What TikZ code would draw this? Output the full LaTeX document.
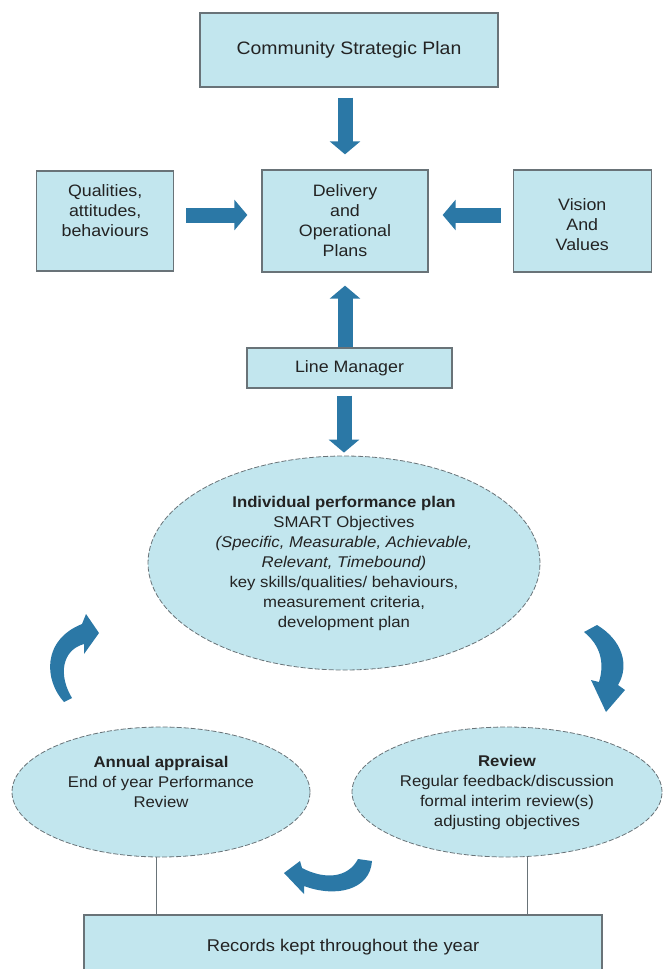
\documentclass[tikz,border=0pt]{standalone}
\usepackage{fontspec}
\setmainfont{Liberation Sans}[FakeStretch=1.08]
\usepackage{tikz}
\usetikzlibrary{arrows.meta,calc,positioning,shapes.geometric}
\definecolor{boxfill}{RGB}{194,230,238}
\definecolor{boxline}{RGB}{105,115,120}
\definecolor{arrowblue}{RGB}{43,120,166}
\definecolor{textgray}{RGB}{35,35,35}
\tikzset{
	plan box/.style={draw=boxline,fill=boxfill,line width=1.3pt,align=center,
		text=textgray,font=\fontsize{16.5}{20}\selectfont,inner sep=0pt},
	plan oval/.style={ellipse,draw=boxline,fill=boxfill,line width=0.8pt,
		dash pattern=on 5pt off 2pt,align=center,text=textgray,
		font=\fontsize{15.5}{20}\selectfont,inner sep=0pt},
	fat arrow/.style={draw=arrowblue,line width=15pt,
		-{Triangle[width=30pt,length=13pt]}},
	cycle arrow/.style={fill=arrowblue},
	rec line/.style={draw=boxline,line width=0.6pt}
}
\begin{document}
\begin{tikzpicture}[x=1pt,y=-1pt]
	\useasboundingbox (0,0) rectangle (664,969);
	% top of the plan
	\node[plan box,minimum width=298pt,minimum height=74pt,font=\fontsize{18}{20}\selectfont] (csp) at (349,50) {Community Strategic Plan};
	\node[plan box,minimum width=166pt,minimum height=102pt] (dop) at (345,221) {Delivery\\and\\Operational\\Plans};
	\node[plan box,minimum width=137pt,minimum height=100pt,left=87pt of dop] (qual) {Qualities,\\attitudes,\\behaviours\\ \mbox{}};
	\node[plan box,minimum width=138pt,minimum height=102pt,right=84pt of dop] (vis) {\mbox{}\\Vision\\And\\Values};
	\node[plan box,minimum width=205pt,minimum height=40pt] (lm) at (349.5,368) {Line Manager};
	\draw[fat arrow] ([yshift=-10pt]csp.south -| dop.north) -- ([yshift=15pt]dop.north);
	\draw[fat arrow] ([xshift=12pt,yshift=6pt]qual.east) -- ([xshift=-14pt,yshift=6pt]dop.west);
	\draw[fat arrow] ([xshift=-12pt,yshift=6pt]vis.west) -- ([xshift=14pt,yshift=6pt]dop.east);
	\draw[fat arrow] (lm.north -| dop.south) -- ([yshift=-13pt]dop.south);
	% the cycle
	\node[plan oval,minimum width=392pt,minimum height=214pt] (ipp) at (344,563) {\textbf{Individual performance plan}\\SMART Objectives\\\textit{(Specific, Measurable, Achievable,}\\\textit{Relevant, Timebound)}\\key skills/qualities/ behaviours,\\measurement criteria,\\development plan};
	\draw[fat arrow] ([yshift=-7pt]lm.south -| ipp.north) -- ([yshift=3pt]ipp.north);
	\node[plan oval,minimum width=298pt,minimum height=130pt] (annual) at (161,792) {\textbf{Annual appraisal}\\End of year Performance\\Review\\ \mbox{}};
	\node[plan oval,minimum width=310pt,minimum height=130pt] (review) at (507,792) {\textbf{Review}\\Regular feedback/discussion\\formal interim review(s)\\adjusting objectives};
	\node[plan box,minimum width=518pt,minimum height=64pt,font=\fontsize{17}{20}\selectfont] (rec) at (343,947) {Records kept throughout the year};
	\draw[rec line] (annual.-94) -- (annual.-94 |- rec.north);
	\draw[rec line] (review.-73) -- (review.-73 |- rec.north);
	\fill[cycle arrow] (64,702) .. controls (44,680) and (42,640) .. (82,624) -- (86,614) -- (99,633) -- (84,654) -- (84,644) .. controls (62,650) and (58,675) .. (72,698) -- cycle;
	\fill[cycle arrow] (584,632) -- (597,625) .. controls (622,640) and (630,665) .. (618,685) -- (625,690) -- (606,712) -- (591,680) -- (599,682) .. controls (605,662) and (600,645) .. (584,632) -- cycle;
	\fill[cycle arrow] (358,859) -- (372,861) .. controls (370,890) and (336,898) .. (304,886) -- (304,894) -- (284,873) -- (300,861) -- (302,868) .. controls (325,880) and (348,878) .. (358,859) -- cycle;
\end{tikzpicture}
\end{document}
